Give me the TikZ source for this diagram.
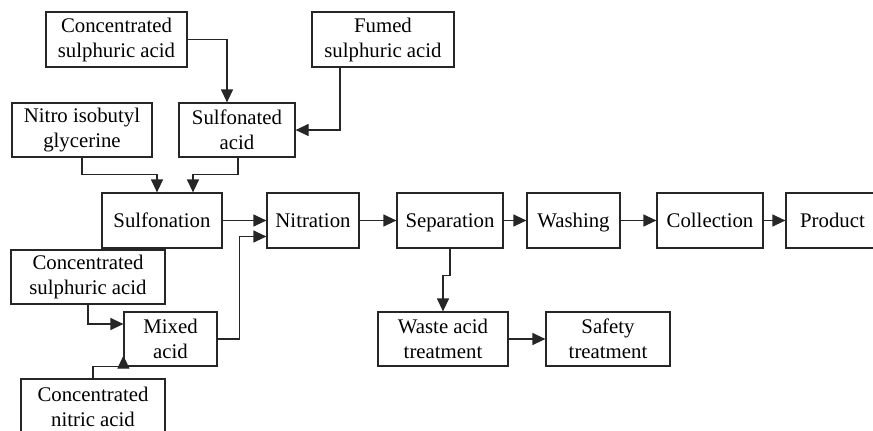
\documentclass[tikz,border=0pt]{standalone}
\usepackage{fontspec}
\setmainfont{Liberation Serif}
\usetikzlibrary{arrows.meta}
\begin{document}
\begin{tikzpicture}[x=1pt,y=-1pt,
  box/.style={draw=black!85, line width=1.2pt, rectangle, align=center,
    inner sep=0pt, font=\fontsize{20.8}{25}\selectfont},
  oneline/.style={text height=18pt, text depth=5pt},
  flow/.style={draw=black!85, line width=1.2pt,
    -{Triangle[length=13pt,width=12pt]}}]
\useasboundingbox (0,0) rectangle (873,431);
% raw materials and sulfonation stage
\node[box, minimum width=141pt, minimum height=55pt] (cs1) at (116.5,39.5) {Concentrated\\sulphuric acid};
\node[box, minimum width=142pt, minimum height=55pt] (fs) at (383,39.5) {Fumed\\sulphuric acid};
\node[box, minimum width=140pt, minimum height=54pt] (nig) at (82,130) {Nitro isobutyl\\glycerine};
\node[box, minimum width=116pt, minimum height=54pt] (sa) at (237,130) {Sulfonated\\acid};
% main process line
\node[box, oneline, minimum width=120pt, minimum height=55pt] (sulf) at (162,220.5) {Sulfonation};
\node[box, oneline, minimum width=92pt, minimum height=55pt] (nitr) at (313,220.5) {Nitration};
\node[box, oneline, minimum width=106pt, minimum height=55pt] (sep) at (450,220.5) {Separation};
\node[box, oneline, minimum width=93pt, minimum height=55pt] (wash) at (573.5,220.5) {Washing};
\node[box, oneline, minimum width=106pt, minimum height=55pt] (coll) at (710,220.5) {Collection};
\node[box, oneline, minimum width=93pt, minimum height=55pt] (prod) at (832.5,220.5) {Product};
% mixed acid preparation
\node[box, minimum width=154pt, minimum height=54pt] (cs2) at (88,277) {Concentrated\\sulphuric acid};
\node[box, minimum width=93pt, minimum height=54pt] (mixed) at (170.5,339) {Mixed\\acid};
\node[box, minimum width=144pt, minimum height=55pt] (cn) at (93,406.5) {Concentrated\\nitric acid};
% waste acid handling
\node[box, minimum width=130pt, minimum height=54pt] (waste) at (443,339) {Waste acid\\treatment};
\node[box, minimum width=124pt, minimum height=54pt] (safety) at (608,339) {Safety\\treatment};

% connectors
\draw[flow] (cs1.east) -| ([xshift=-10pt]sa.north);
\draw[flow] ([xshift=-43pt]fs.south) |- (sa.east);
\draw[flow] (nig.south) -- ++(0,17) -| ([xshift=-5pt]sulf.north);
\draw[flow] ([xshift=1pt]sa.south) -- ++(0,17) -| ([xshift=31pt]sulf.north);
\draw[flow] (sulf.east) -- (sulf.east -| nitr.west);
\draw[flow] (mixed.east) -- ++(22,0) |- ([yshift=-16pt]nitr.west);
\draw[flow] (cs2.south) |- ([yshift=15pt]mixed.west);
\draw[flow] (cn.north) |- (mixed.south west) -- ([yshift=11pt]mixed.south west);
\draw[flow] (nitr.east) -- (sep.west);
\draw[flow] (sep.east) -- (wash.west);
\draw[flow] (wash.east) -- (coll.west);
\draw[flow] (coll.east) -- (prod.west);
\draw[flow] (sep.south) -- ++(0,27) -| (waste.north);
\draw[flow] (waste.east) -- (safety.west);
\end{tikzpicture}
\end{document}
